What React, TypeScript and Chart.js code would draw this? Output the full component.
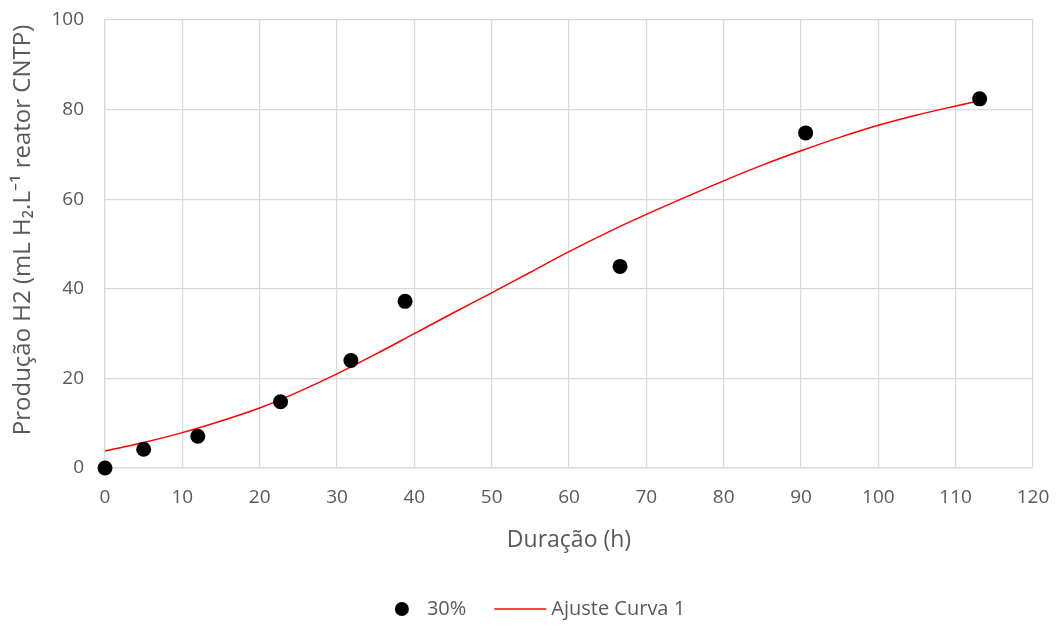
import React, { useEffect, useRef } from "react";
import { Chart, registerables } from "chart.js";

Chart.register(...registerables);

// Measured hydrogen production (30% condition)
const durations = [0, 5.0, 12.0, 22.7, 31.8, 38.8, 66.6, 90.6, 113.1];
const production = [0, 4.2, 7.1, 14.8, 24.0, 37.2, 45.0, 74.8, 82.4];

// Fitted curve ("Ajuste Curva 1"), sampled along the duration axis
const fitDurations = [0, 5, 10, 15, 20, 25, 30, 35, 40, 45, 50, 55, 60, 65, 70, 75, 80, 85, 90, 95, 100, 105, 110, 113.1];
const fitProduction = [3.8, 5.7, 7.9, 10.5, 13.4, 17.0, 21.0, 25.4, 30.0, 34.6, 39.1, 43.7, 48.3, 52.6, 56.6, 60.4, 64.1, 67.6, 70.8, 73.8, 76.5, 78.8, 80.8, 82.0];

const xTicks = [0, 10, 20, 30, 40, 50, 60, 70, 80, 90, 100, 110, 120];
const yTicks = [0, 20, 40, 60, 80, 100];

const seriesLabel = "30%";
const fitLabel = "Ajuste Curva 1";
const xTitle = "Duração (h)";
const yTitle = "Produção H2 (mL H₂.L⁻¹ reator CNTP)";

const FONT = '"Open Sans", "Noto Sans", sans-serif';
const TEXT = "#595959";
const GRID = "#d9d9d9";

// Rotated y-axis title and a bottom legend drawn on the canvas
const decorations = {
  id: "decorations",
  afterDraw(chart: any) {
    const { ctx, chartArea } = chart;
    ctx.save();

    // y title
    ctx.fillStyle = TEXT;
    ctx.font = `24px ${FONT}`;
    ctx.textAlign = "center";
    ctx.textBaseline = "middle";
    ctx.translate(23, (chartArea.top + chartArea.bottom) / 2 - 14);
    ctx.rotate(-Math.PI / 2);
    ctx.fillText(yTitle, 0, 0);
    ctx.setTransform(1, 0, 0, 1, 0, 0);

    // legend
    const ds = chart.data.datasets;
    ctx.font = `20px ${FONT}`;
    ctx.textAlign = "left";
    const w1 = ctx.measureText(ds[0].label).width;
    const w2 = ctx.measureText(ds[1].label).width;
    const marker = 14, gapText = 18, gapItems = 28, lineLen = 52, gapLine = 5;
    const total = marker + gapText + w1 + gapItems + lineLen + gapLine + w2;
    let x = 540 - total / 2;
    const y = 609;

    ctx.beginPath();
    ctx.arc(x + marker / 2, y, 7, 0, Math.PI * 2);
    ctx.fillStyle = ds[0].backgroundColor;
    ctx.fill();
    x += marker + gapText;
    ctx.fillStyle = TEXT;
    ctx.fillText(ds[0].label, x, y);
    x += w1 + gapItems;

    ctx.beginPath();
    ctx.moveTo(x, y);
    ctx.lineTo(x + lineLen, y);
    ctx.strokeStyle = ds[1].borderColor;
    ctx.lineWidth = 1.5;
    ctx.stroke();
    x += lineLen + gapLine;
    ctx.fillStyle = TEXT;
    ctx.fillText(ds[1].label, x, y);

    ctx.restore();
  },
};

export default function App() {
  const canvasRef = useRef<HTMLCanvasElement | null>(null);

  useEffect(() => {
    document.body.style.margin = "0";
    const canvas = canvasRef.current;
    if (!canvas) return;

    const chart = new Chart(canvas, {
      type: "scatter",
      data: {
        datasets: [
          {
            label: seriesLabel,
            data: durations.map((d, i) => ({ x: d, y: production[i] })),
            backgroundColor: "#000000",
            borderColor: "#000000",
            pointRadius: 7.5,
            pointBorderWidth: 0,
            showLine: false,
            clip: false,
            order: 1,
          },
          {
            label: fitLabel,
            data: fitDurations.map((d, i) => ({ x: d, y: fitProduction[i] })),
            borderColor: "#ff0000",
            backgroundColor: "#ff0000",
            borderWidth: 1.5,
            pointRadius: 0,
            showLine: true,
            cubicInterpolationMode: "monotone",
            order: 2,
          },
        ] as any,
      },
      options: {
        animation: false,
        responsive: false,
        maintainAspectRatio: false,
        layout: { padding: { top: 20, right: 23, left: 0, bottom: 0 } },
        plugins: {
          legend: { display: false },
          tooltip: { enabled: false },
        },
        scales: {
          x: {
            type: "linear",
            min: 0,
            max: 120,
            afterFit(scale: any) {
              scale.height = 158;
              scale.paddingLeft = 0;
              scale.paddingRight = 0;
              scale.paddingTop = 0;
              scale.paddingBottom = 0;
            },
            afterBuildTicks(scale: any) {
              scale.ticks = xTicks.map((v) => ({ value: v }));
            },
            grid: { color: GRID, lineWidth: 1.2, drawTicks: false },
            border: { color: GRID, width: 1.2 },
            ticks: {
              padding: 18,
              color: TEXT,
              font: { family: FONT, size: 19 },
            },
            title: {
              display: true,
              text: xTitle,
              color: TEXT,
              font: { family: FONT, size: 23 },
              padding: { top: 0, bottom: 72 },
            },
          },
          y: {
            type: "linear",
            min: 0,
            max: 100,
            afterFit(scale: any) {
              scale.width = 105;
              scale.paddingLeft = 0;
              scale.paddingRight = 0;
              scale.paddingTop = 0;
              scale.paddingBottom = 0;
            },
            afterBuildTicks(scale: any) {
              scale.ticks = yTicks.map((v) => ({ value: v }));
            },
            grid: { color: GRID, lineWidth: 1.2, drawTicks: false },
            border: { color: GRID, width: 1.2 },
            ticks: {
              padding: 21,
              color: TEXT,
              font: { family: FONT, size: 19 },
            },
          },
        },
      },
      plugins: [decorations],
    });

    return () => chart.destroy();
  }, []);

  return (
    <div style={{ position: "absolute", left: 0, top: 0, width: 1056, height: 626, background: "#ffffff" }}>
      <canvas ref={canvasRef} width={1056} height={626} />
    </div>
  );
}
